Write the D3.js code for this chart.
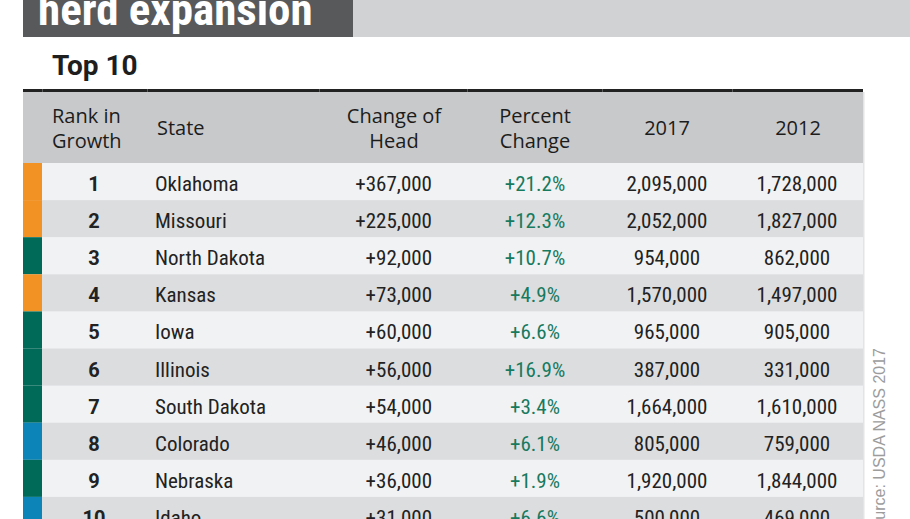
<!DOCTYPE html>
<html lang="en">
<head>
    <meta charset="UTF-8">
    <title>Herd expansion - Top 10</title>
    <script src="https://d3js.org/d3.v7.min.js"></script>
    <style>
        body { margin: 0; background: #fff; }
        svg { display: block; }
        .narrow { font-family: "Liberation Sans Narrow", "Arial Narrow", "Roboto Condensed", sans-serif; }
        .head { font-family: "Open Sans", "Noto Sans", sans-serif; }
    </style>
</head>
<body>
<div id="chart"></div>
<script>

// data
var ranks = [1, 2, 3, 4, 5, 6, 7, 8, 9, 10];
var states = ['Oklahoma', 'Missouri', 'North Dakota', 'Kansas', 'Iowa', 'Illinois',
              'South Dakota', 'Colorado', 'Nebraska', 'Idaho'];
var regions = ['South', 'South', 'Midwest', 'South', 'Midwest', 'Midwest',
               'Midwest', 'West', 'Midwest', 'West'];
var changeHead = [367000, 225000, 92000, 73000, 60000, 56000, 54000, 46000, 36000, 31000];
var pctChange = [21.2, 12.3, 10.7, 4.9, 6.6, 16.9, 3.4, 6.1, 1.9, 6.6];
var head2017 = [2095000, 2052000, 954000, 1570000, 965000, 387000, 1664000, 805000, 1920000, 500000];
var head2012 = [1728000, 1827000, 862000, 1497000, 905000, 331000, 1610000, 759000, 1844000, 469000];
var headers = [['Rank in', 'Growth'], ['State'], ['Change of', 'Head'], ['Percent', 'Change'], ['2017'], ['2012']];

var width = 910, height = 519;
var left = 23, right = 863;
var headTop = 92, headBottom = 163;

var svg = d3.select('#chart').append('svg')
    .attr('width', width)
    .attr('height', height);

// title band
svg.append('rect').attr('x', 353).attr('y', 0).attr('width', width - 353).attr('height', 37).attr('fill', '#d1d2d4');
svg.append('rect').attr('x', left).attr('y', 0).attr('width', 353 - left).attr('height', 37).attr('fill', '#58595b');
svg.append('text')
    .attr('class', 'narrow')
    .attr('x', 38).attr('y', 25)
    .attr('font-size', 45).attr('font-weight', 700)
    .attr('fill', '#fff')
    .text('herd expansion');

svg.append('text')
    .attr('x', 52).attr('y', 75)
    .attr('font-family', 'Roboto, sans-serif')
    .attr('font-size', 28).attr('font-weight', 700)
    .attr('fill', '#1e1e1e')
    .text('Top 10');

// rows
var y = d3.scaleBand()
    .domain(ranks)
    .range([headBottom, headBottom + 37.1 * ranks.length]);

var regionColor = d3.scaleOrdinal()
    .domain(['South', 'Midwest', 'West'])
    .range(['#f39224', '#006a59', '#0c84b8']);

var rows = ranks.map(function(r, i) {
    return { rank: r, state: states[i], region: regions[i], change: changeHead[i],
             pct: pctChange[i], v2017: head2017[i], v2012: head2012[i] };
});

var fmtNum = d3.format(',');
var fmtChange = d3.format('+,');
var fmtPct = function(d) { return d3.format('+.1f')(d) + '%'; };

// header block
svg.append('rect').attr('x', left).attr('y', headTop).attr('width', right - left).attr('height', headBottom - headTop).attr('fill', '#c8c9cb');
svg.append('rect').attr('x', left).attr('y', 89).attr('width', right - left).attr('height', 3).attr('fill', '#222');
[42, 147, 319, 467, 602, 732].forEach(function(x) {
    svg.append('rect').attr('x', x).attr('y', 89).attr('width', 1).attr('height', 3).attr('fill', '#5a5a5a');
});

// column x anchors
var cols = [
    { x: 52,  anchor: 'start' },
    { x: 157, anchor: 'start' },
    { x: 394, anchor: 'middle' },
    { x: 535, anchor: 'middle' },
    { x: 667, anchor: 'middle' },
    { x: 798, anchor: 'middle' }
];

headers.forEach(function(lines, i) {
    var t = svg.append('text')
        .attr('class', 'head')
        .attr('x', cols[i].x)
        .attr('text-anchor', cols[i].anchor)
        .attr('font-size', 20)
        .attr('fill', '#1c1c1c');
    if (lines.length === 1) {
        t.attr('y', 135).text(lines[0]);
    } else {
        lines.forEach(function(l, j) {
            t.append('tspan').attr('x', cols[i].x).attr('y', 123 + j * 25).text(l);
        });
    }
});

var g = svg.selectAll('g.row')
    .data(rows)
    .enter()
    .append('g')
    .attr('class', 'row')
    .attr('transform', function(d) { return 'translate(0,' + y(d.rank) + ')'; });

g.append('rect')
    .attr('x', left).attr('width', right - left)
    .attr('height', y.bandwidth() + 0.5)
    .attr('fill', function(d, i) { return i % 2 === 0 ? '#f1f2f4' : '#dcdddf'; });

g.append('rect')
    .attr('x', left).attr('width', 19)
    .attr('height', y.bandwidth() + 0.5)
    .attr('fill', function(d) { return regionColor(d.region); });

var base = 28;

g.append('text')
    .attr('x', 94).attr('y', base)
    .attr('text-anchor', 'middle')
    .attr('font-family', 'Roboto, sans-serif')
    .attr('font-weight', 700).attr('font-size', 20)
    .attr('fill', '#222')
    .text(function(d) { return d.rank; });

g.append('text')
    .attr('class', 'narrow')
    .attr('x', 155).attr('y', base)
    .attr('font-size', 21).attr('fill', '#222')
    .text(function(d) { return d.state; });

g.append('text')
    .attr('class', 'narrow')
    .attr('x', 432).attr('y', base)
    .attr('text-anchor', 'end')
    .attr('font-size', 21).attr('fill', '#222')
    .text(function(d) { return fmtChange(d.change); });

g.append('text')
    .attr('class', 'narrow')
    .attr('x', 535).attr('y', base)
    .attr('text-anchor', 'middle')
    .attr('font-size', 21).attr('fill', '#177a5e')
    .text(function(d) { return fmtPct(d.pct); });

g.append('text')
    .attr('class', 'narrow')
    .attr('x', 667).attr('y', base)
    .attr('text-anchor', 'middle')
    .attr('font-size', 21).attr('fill', '#222')
    .text(function(d) { return fmtNum(d.v2017); });

g.append('text')
    .attr('class', 'narrow')
    .attr('x', 797).attr('y', base)
    .attr('text-anchor', 'middle')
    .attr('font-size', 21).attr('fill', '#222')
    .text(function(d) { return fmtNum(d.v2012); });

// thin edge right of table
svg.append('rect').attr('x', right).attr('y', headTop).attr('width', 1.5).attr('height', height - headTop).attr('fill', '#e4e4e4');

// source note
svg.append('text')
    .attr('transform', 'translate(885,348) rotate(-90)')
    .attr('text-anchor', 'end')
    .attr('font-family', '"Liberation Sans", Arial, sans-serif')
    .attr('font-size', 16)
    .attr('fill', '#9c9c9c')
    .text('Source: USDA NASS 2017');

</script>
</body>
</html>
